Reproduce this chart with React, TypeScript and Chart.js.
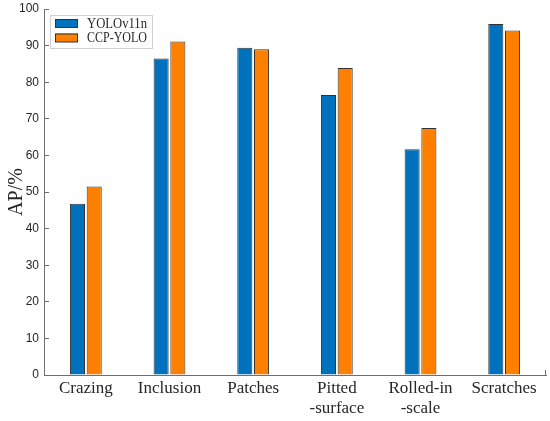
import { useEffect, useRef } from "react"
import { Chart, registerables } from "chart.js"

Chart.register(...registerables)

const categories = [
  "Crazing",
  "Inclusion",
  "Patches",
  ["Pitted", "-surface"],
  ["Rolled-in", "-scale"],
  "Scratches",
]
const seriesNames = ["YOLOv11n", "CCP-YOLO"]
const yoloValues = [46.8, 86.5, 89.4, 76.5, 61.7, 95.9]
const ccpValues = [51.5, 91.1, 89.0, 83.9, 67.5, 94.1]
const seriesColors = ["#0072BD", "#FF8000"]

const axisColor = "#6f6f6f"
const textColor = "#262626"

// legend drawn inside the plot area, top-left, like the original figure
const boxLegend = {
  id: "boxLegend",
  afterDraw(chart) {
    const ctx = chart.ctx
    const { left, top, right, bottom } = chart.chartArea
    ctx.save()
    // small upward tick at right end of x axis
    ctx.strokeStyle = axisColor
    ctx.lineWidth = 1
    ctx.beginPath()
    ctx.moveTo(right - 0.5, bottom)
    ctx.lineTo(right - 0.5, bottom - 5)
    ctx.stroke()

    const bx = left + 6
    const by = top + 6
    ctx.fillStyle = "#fff"
    ctx.fillRect(bx, by, 102, 33)
    ctx.strokeStyle = "#d0d0d0"
    ctx.strokeRect(bx + 0.5, by + 0.5, 102, 33)
    ctx.font = "14.5px 'Liberation Serif'"
    ctx.textBaseline = "middle"
    chart.data.datasets.forEach((ds, i) => {
      const y = by + 4 + i * 14.5
      ctx.fillStyle = ds.backgroundColor
      ctx.fillRect(bx + 5, y, 23, 8.5)
      ctx.strokeStyle = "#333"
      ctx.strokeRect(bx + 5.5, y + 0.5, 22, 8)
      ctx.fillStyle = textColor
      ctx.fillText(ds.label, bx + 37, y + 5, 60)
    })
    ctx.restore()
  },
}

export default function App() {
  const chartRef = useRef(null)
  const chartInstance = useRef(null)

  useEffect(() => {
    if (chartRef.current) {
      if (chartInstance.current) {
        chartInstance.current.destroy()
      }

      const ctx = chartRef.current.getContext("2d")

      chartInstance.current = new Chart(ctx, {
        type: "bar",
        data: {
          labels: categories,
          datasets: [
            {
              label: seriesNames[0],
              data: yoloValues,
              backgroundColor: seriesColors[0],
              borderColor: "#333",
              borderWidth: 1,
            },
            {
              label: seriesNames[1],
              data: ccpValues,
              backgroundColor: seriesColors[1],
              borderColor: "#333",
              borderWidth: 1,
            },
          ],
        },
        options: {
          responsive: false,
          animation: false,
          datasets: {
            bar: {
              categoryPercentage: 0.4,
              barPercentage: 0.9,
            },
          },
          layout: {
            padding: { top: 0, right: 4, left: 0, bottom: 0 },
          },
          plugins: {
            legend: { display: false },
            tooltip: { enabled: false },
          },
          scales: {
            y: {
              min: 0,
              max: 100,
              afterFit: (scale) => {
                scale.width = 44
                scale.paddingTop = 9
                scale.paddingBottom = 0
              },
              ticks: {
                stepSize: 10,
                color: textColor,
                padding: 10,
                font: { family: "'Liberation Sans'", size: 12 },
              },
              grid: {
                drawOnChartArea: false,
                tickLength: -5,
                tickColor: axisColor,
              },
              border: { color: axisColor, width: 1 },
              title: {
                display: true,
                text: "AP/%",
                color: textColor,
                padding: { top: 5, bottom: 0 },
                font: { family: "'Liberation Serif'", size: 20 },
              },
            },
            x: {
              afterFit: (scale) => {
                scale.height = 46
              },
              ticks: {
                color: textColor,
                padding: 3,
                autoSkip: false,
                maxRotation: 0,
                font: { family: "'Liberation Serif'", size: 17, lineHeight: 1.2 },
              },
              grid: {
                drawOnChartArea: false,
                drawTicks: false,
              },
              border: { color: axisColor, width: 1 },
            },
          },
        },
        plugins: [boxLegend],
      })
    }

    return () => {
      if (chartInstance.current) {
        chartInstance.current.destroy()
      }
    }
  }, [])

  return (
    <div style={{ position: "fixed", left: 0, top: 0, width: 550, height: 421, background: "#fff" }}>
      <canvas ref={chartRef} width={550} height={421} />
    </div>
  )
}
